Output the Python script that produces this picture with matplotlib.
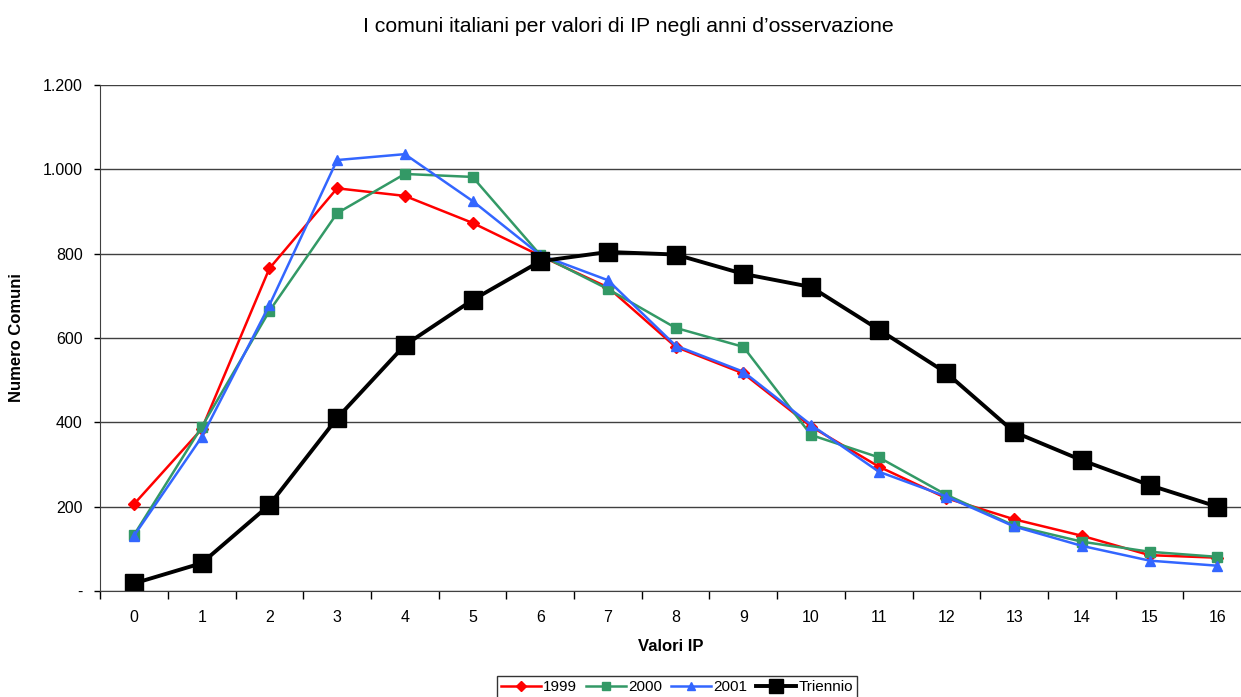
import numpy as np
from matplotlib import pyplot as plt
from matplotlib.ticker import FuncFormatter

plt.rcParams['font.family'] = ['Liberation Sans', 'DejaVu Sans']

valori_ip = list(range(17))
serie_1999 = [206, 384, 765, 955, 937, 873, 795, 720, 579, 516, 390, 295, 220, 170, 131, 85, 79]
serie_2000 = [133, 389, 664, 896, 989, 982, 797, 716, 624, 579, 370, 317, 228, 155, 117, 93, 81]
serie_2001 = [131, 365, 678, 1022, 1036, 925, 797, 737, 582, 520, 394, 283, 224, 153, 107, 72, 60]
triennio = [18, 66, 204, 410, 583, 690, 782, 804, 798, 752, 721, 620, 517, 377, 310, 251, 200]

fig = plt.figure(figsize=(12.41, 6.97), dpi=100)
ax = fig.add_axes([100/1241, 106/697, 1 - 100/1241, 506/697])

ax.plot(valori_ip, serie_1999, color='#FF0000', lw=1.8, marker='D', ms=6, label='1999')
ax.plot(valori_ip, serie_2000, color='#339966', lw=1.8, marker='s', ms=6.5, label='2000')
ax.plot(valori_ip, serie_2001, color='#3366FF', lw=1.8, marker='^', ms=7.5, label='2001')
ax.plot(valori_ip, triennio, color='black', lw=2.8, marker='s', ms=13, label='Triennio')

ax.set_ylim(0, 1200)
ax.set_xlim(-0.502, 16.35)
ax.set_yticks(range(0, 1201, 200))
ax.yaxis.set_major_formatter(FuncFormatter(lambda v, p: '-' if v == 0 else f'{int(v):,}'.replace(',', '.')))
ax.set_xticks(valori_ip)
ax.set_xticks(np.arange(-0.5, 16.5, 1), minor=True)
ax.tick_params(axis='x', which='major', length=0, pad=14, labelsize=11.5)
ax.tick_params(axis='x', which='minor', length=6, width=1, direction='out')
ax.tick_params(axis='y', length=4.5, width=1, direction='out', pad=8, labelsize=11.5)
ax.grid(axis='y', color='#404040', lw=1)
ax.set_axisbelow(True)
for s in ['top', 'right']:
    ax.spines[s].set_visible(False)
ax.spines['left'].set_color('#404040')
ax.spines['bottom'].set_color('#404040')

ax.set_xlabel('Valori IP', fontweight='bold', fontsize=12, labelpad=10)
ax.set_ylabel('Numero Comuni', fontweight='bold', fontsize=12)
ax.yaxis.set_label_coords(-76/1141, 0.5)
fig.text(0.5065, 0.962, 'I comuni italiani per valori di IP negli anni d\u2019osservazione',
         ha='center', va='center', fontsize=15.3)

fig.legend(loc='lower center', bbox_to_anchor=(0.5455, -0.012), ncol=4, frameon=True,
           fancybox=False, edgecolor='black', fontsize=11, handlelength=2.6,
           handletextpad=0.15, columnspacing=0.6, borderpad=0.25, markerscale=0.8)

fig.savefig('out.png', dpi=100)
